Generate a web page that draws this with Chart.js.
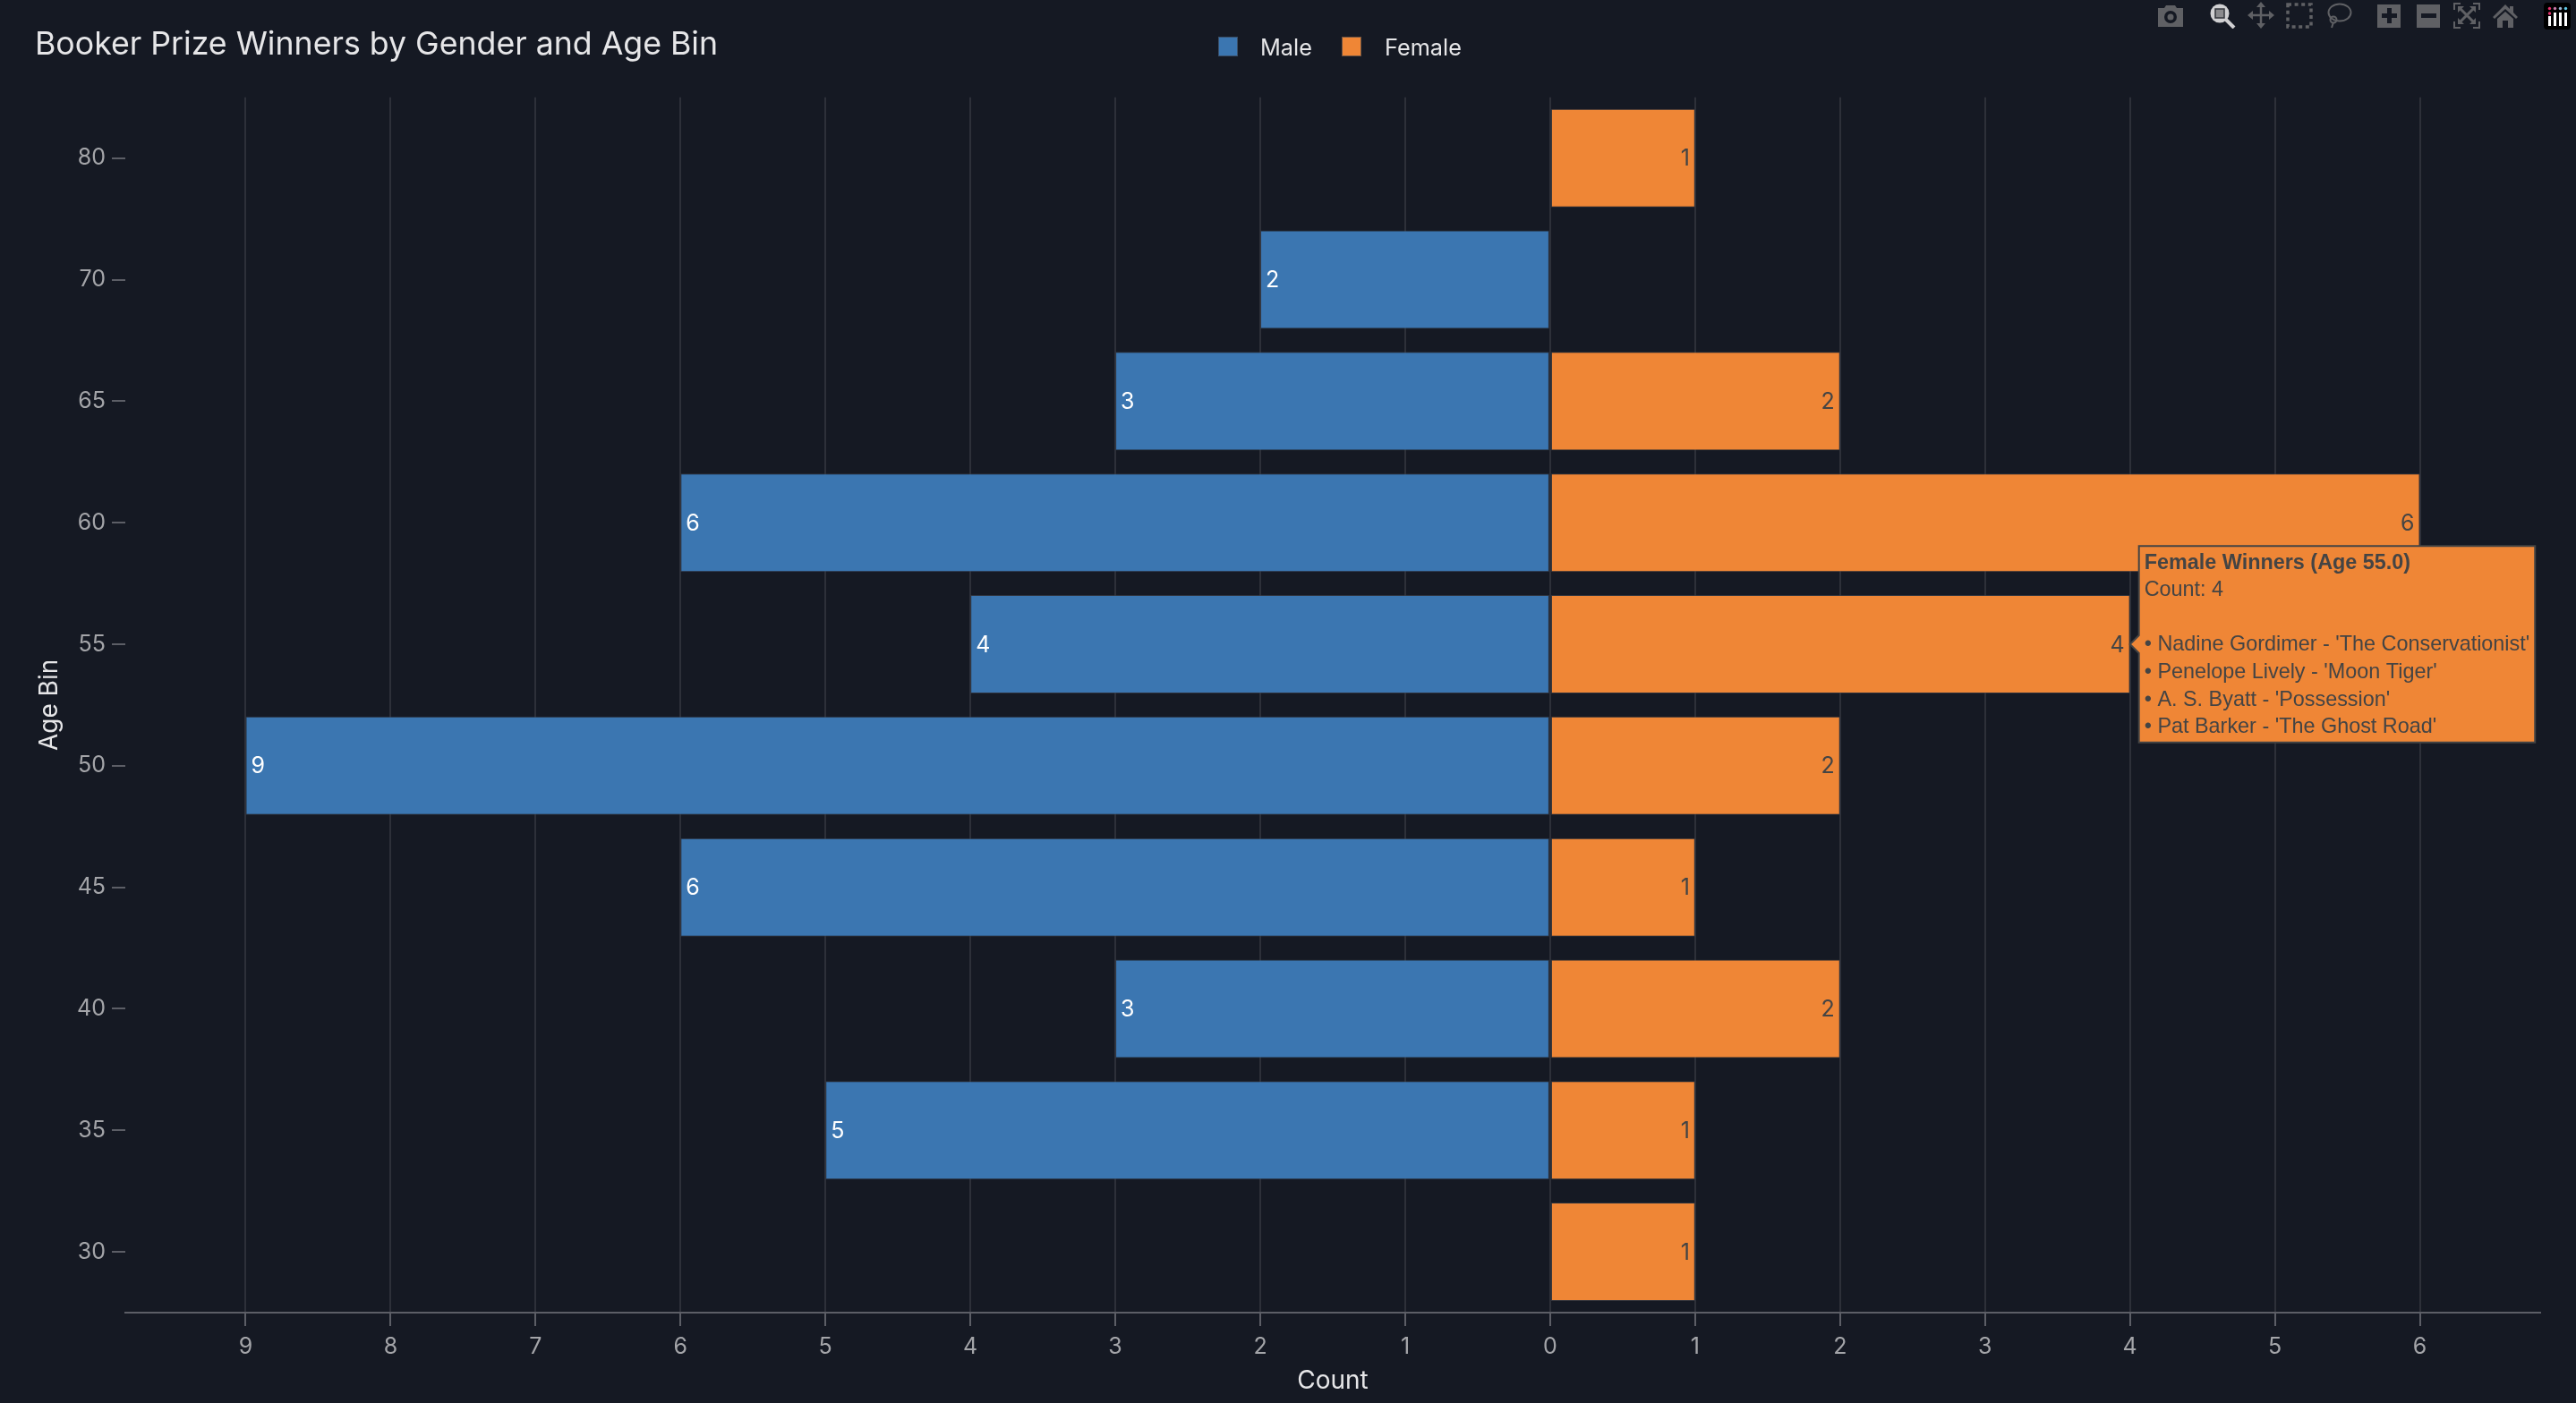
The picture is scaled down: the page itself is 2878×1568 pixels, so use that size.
<!DOCTYPE html>
<html>
<head>
<meta charset="utf-8">
<title>Booker Prize Winners by Gender and Age Bin</title>
<script src="https://cdn.jsdelivr.net/npm/chart.js@4"></script>
<style>
    html, body { margin: 0; padding: 0; background: #151923; overflow: hidden; }
    #wrap { position: relative; width: 2878px; height: 1568px; font-family: Inter, sans-serif; }
    #wrap canvas { position: absolute; left: 0; top: 0; }
    .legend-box { position: absolute; top: 41px; width: 22px; height: 22px; box-sizing: border-box; border: 1px solid; }
    .legend-text { position: absolute; top: 36px; line-height: 34px; font-size: 25.3px; color: #e6e6e8; white-space: nowrap; }
    .tool { position: absolute; top: 2px; width: 30px; height: 30px; }
</style>
</head>
<body>
<div id="wrap">
    <canvas id="chart"></canvas>
    <div id="legend"></div>

    <!-- modebar -->
    <svg class="tool" style="left:2410px" viewBox="0 0 30 30" fill="#5f6064"><path fill-rule="evenodd" d="M1 7h7l2-3h10l2 3h7v21H1zM15 10a7 7 0 1 0 0 14 7 7 0 0 0 0-14zm0 3.5a3.5 3.5 0 1 1 0 7 3.5 3.5 0 0 1 0-7z"/></svg>
    <svg class="tool" style="left:2468px" viewBox="0 0 30 30"><circle cx="12" cy="13" r="10.5" fill="#d0d0d2"/><rect x="7" y="8" width="10" height="10" fill="#8a8a8d" stroke="#33363d" stroke-width="1.5"/><path d="M19 20l9 9" stroke="#d0d0d2" stroke-width="4"/></svg>
    <svg class="tool" style="left:2511px" viewBox="0 0 30 30" fill="none" stroke="#5f6064" stroke-width="2.5"><path d="M15 3v25M2 15h26"/><path fill="#5f6064" stroke="none" d="M15 0l5 6H10zM15 30l-5-6h10zM0 15l6-5v10zM30 15l-6 5V10z"/></svg>
    <svg class="tool" style="left:2554px" viewBox="0 0 30 30" fill="none" stroke="#5f6064" stroke-width="3.5" stroke-dasharray="4 3.6"><rect x="2" y="3" width="26" height="25"/></svg>
    <svg class="tool" style="left:2598px" viewBox="0 0 30 30" fill="none" stroke="#5f6064" stroke-width="2"><ellipse cx="16" cy="12" rx="12.5" ry="9.5"/><circle cx="9" cy="20" r="3.5"/><path d="M9 23l-2 6"/></svg>
    <svg class="tool" style="left:2654px" viewBox="0 0 30 30"><path fill="#5f6064" fill-rule="evenodd" d="M2 3h26v26H2zM13 7v6H7v5h6v6h5v-6h6v-5h-6V7z"/></svg>
    <svg class="tool" style="left:2698px" viewBox="0 0 30 30"><path fill="#5f6064" fill-rule="evenodd" d="M2 3h26v26H2zM7 13v5h17v-5z"/></svg>
    <svg class="tool" style="left:2741px" viewBox="0 0 30 30" fill="none" stroke="#5f6064" stroke-width="2"><path d="M8 2H1v7M22 2h7v7M8 29H1v-7M22 29h7v-7"/><path stroke-width="3" d="M8 8l14 14M22 8L8 22"/><path fill="#5f6064" stroke="none" d="M5 5h7l-7 7zM25 5v7l-7-7zM5 25v-7l7 7zM25 25h-7l7-7z"/></svg>
    <svg class="tool" style="left:2784px" viewBox="0 0 30 30" fill="#5f6064"><path d="M15 3L1 17l2 2L15 8l12 11 2-2-5-5V5h-4v3zM6 19l9-8 9 8v10h-6v-8h-6v8H6z"/></svg>
    <svg class="tool" style="left:2842px;top:3px" viewBox="0 0 30 30"><rect width="30" height="30" rx="4" fill="#000"/><g fill="#fff"><rect x="5" y="15" width="3" height="11"/><rect x="11" y="11" width="3" height="15"/><rect x="17" y="11" width="3" height="15"/><rect x="23" y="11" width="3" height="15"/></g><circle cx="6.5" cy="6.5" r="1.7" fill="#e8326e"/><circle cx="12.5" cy="6.5" r="1.7" fill="#c879a8"/><circle cx="18.5" cy="6.5" r="1.7" fill="#9bb7d6"/><circle cx="24.5" cy="6.5" r="1.7" fill="#5fc9e8"/><circle cx="6.5" cy="12" r="1.7" fill="#e8326e"/></svg>
</div>

<script>
// values, top row first
const ageBins = ['80', '70', '65', '60', '55', '50', '45', '40', '35', '30'];
const maleCounts = [null, 2, 3, 6, 4, 9, 6, 3, 5, null];
const femaleCounts = [1, null, 2, 6, 4, 2, 1, 2, 1, 1];
const countTicks = [-9, -8, -7, -6, -5, -4, -3, -2, -1, 0, 1, 2, 3, 4, 5, 6];

// hover box shown for the female 55 bar
const tooltipAge = '55';
const tooltipWinners = [
    "Nadine Gordimer - 'The Conservationist'",
    "Penelope Lively - 'Moon Tiger'",
    "A. S. Byatt - 'Possession'",
    "Pat Barker - 'The Ghost Road'"
];

const COLORS = {
    male: '#3b76b1',
    female: '#ef8636',
    edge: 'rgba(58, 63, 72, 0.7)',
    grid: '#2d3039',
    axis: '#5c5e66',
    tick: '#a4a5a9',
    title: '#e6e6e8',
    darkText: '#444'
};

// labels at the inside end of each bar
const barLabels = {
    id: 'barLabels',
    afterDatasetsDraw(chart) {
        const ctx = chart.ctx;
        ctx.save();
        ctx.font = '25px Inter';
        ctx.textBaseline = 'middle';
        chart.data.datasets.forEach((ds, i) => {
            const isMale = ds.label === 'Male';
            chart.getDatasetMeta(i).data.forEach((bar, j) => {
                const v = ds.data[j];
                if (v === null) return;
                ctx.fillStyle = isMale ? '#ffffff' : COLORS.darkText;
                ctx.textAlign = isMale ? 'left' : 'right';
                ctx.fillText(String(Math.abs(v)), bar.x + (isMale ? 6 : -6), bar.y + 1);
            });
        });
        ctx.restore();
    }
};

const chart = new Chart(document.getElementById('chart').getContext('2d'), {
    type: 'bar',
    data: {
        labels: ageBins,
        datasets: [
            {
                label: 'Male',
                data: maleCounts.map(v => v === null ? null : -v),
                backgroundColor: COLORS.male,
                borderColor: COLORS.edge,
                borderWidth: 1,
                borderSkipped: false
            },
            {
                label: 'Female',
                data: femaleCounts,
                backgroundColor: COLORS.female,
                borderColor: COLORS.edge,
                borderWidth: 1,
                borderSkipped: false
            }
        ]
    },
    options: {
        indexAxis: 'y',
        responsive: true,
        maintainAspectRatio: false,
        animation: false,
        events: [],
        categoryPercentage: 0.81,
        barPercentage: 1,
        layout: { padding: { left: 39, right: 40, top: 0, bottom: 0 } },
        scales: {
            x: {
                type: 'linear',
                stacked: true,
                min: -9.83,
                max: 6.83,
                afterBuildTicks: scale => { scale.ticks = countTicks.map(value => ({ value })); },
                afterFit: scale => { scale.height = 101; },
                ticks: {
                    callback: v => Math.abs(v),
                    color: COLORS.tick,
                    font: { family: 'Inter', size: 25 },
                    autoSkip: false,
                    maxRotation: 0,
                    padding: 8
                },
                grid: { color: COLORS.grid, lineWidth: 2, tickColor: COLORS.axis, tickLength: 15 },
                border: { color: COLORS.axis, width: 2 },
                title: {
                    display: true,
                    text: 'Count',
                    color: COLORS.title,
                    font: { family: 'Inter', size: 28 },
                    padding: { top: 0, bottom: 8 }
                }
            },
            y: {
                stacked: true,
                afterFit: scale => { scale.width = 101; },
                ticks: {
                    color: COLORS.tick,
                    font: { family: 'Inter', size: 25 },
                    padding: 7
                },
                grid: { offset: false, drawOnChartArea: false, tickColor: COLORS.axis, tickLength: 15, lineWidth: 2 },
                border: { display: false },
                title: {
                    display: true,
                    text: 'Age Bin',
                    color: COLORS.title,
                    font: { family: 'Inter', size: 28 },
                    padding: { top: 0, bottom: 0 }
                }
            }
        },
        plugins: {
            legend: { display: false },
            title: {
                display: true,
                text: 'Booker Prize Winners by Gender and Age Bin',
                align: 'start',
                color: COLORS.title,
                font: { family: 'Inter', size: 35.7, weight: 'normal' },
                padding: { top: 29, bottom: 37 }
            },
            tooltip: {
                enabled: true,
                animation: false,
                xAlign: 'left',
                yAlign: 'center',
                backgroundColor: COLORS.female,
                borderColor: COLORS.darkText,
                borderWidth: 2,
                cornerRadius: 0,
                caretSize: 10,
                caretPadding: 0,
                displayColors: false,
                padding: { left: 6, right: 6, top: 5, bottom: 3 },
                titleColor: COLORS.darkText,
                bodyColor: COLORS.darkText,
                titleFont: { family: 'Liberation Sans', size: 23.4, weight: 'bold' },
                bodyFont: { family: 'Liberation Sans', size: 23.4 },
                titleMarginBottom: 2.5,
                bodySpacing: 2.5,
                callbacks: {
                    title: () => `Female Winners (Age ${tooltipAge}.0)`,
                    label: item => [`Count: ${item.raw}`, '', ...tooltipWinners.map(w => `• ${w}`)]
                }
            }
        }
    },
    plugins: [barLabels]
});

// legend sits beside the title in the header row, so build it outside the canvas
const renderLegend = () => {
    const spots = { Male: [1361, 1408], Female: [1499, 1547] };
    document.getElementById('legend').innerHTML = chart.data.datasets.map(ds => `
        <div class="legend-box" style="left:${spots[ds.label][0]}px;background:${ds.backgroundColor};border-color:${ds.borderColor}"></div>
        <div class="legend-text" style="left:${spots[ds.label][1]}px">${ds.label}</div>
    `).join('');
};
renderLegend();

chart.tooltip.setActiveElements([{ datasetIndex: 1, index: ageBins.indexOf(tooltipAge) }], { x: 0, y: 0 });
chart.update();
</script>
</body>
</html>
